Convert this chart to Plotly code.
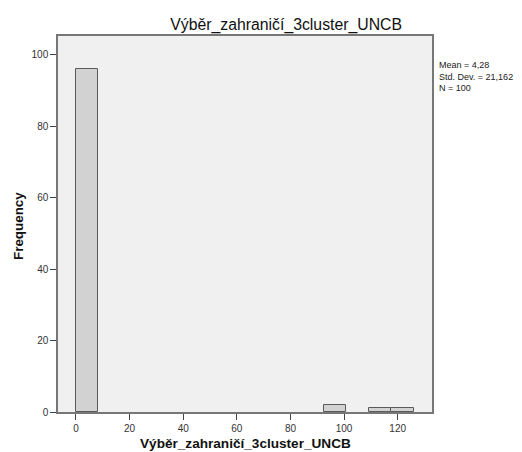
import plotly.graph_objects as go

# Histogram of Výběr_zahraničí_3cluster_UNCB (pre-binned counts)
bin_lefts = [0.0, 92.4, 109.2, 117.6]
counts = [96, 2, 1, 1]
bin_width = 8.4
x_ticks = [0, 20, 40, 60, 80, 100, 120]
y_ticks = [0, 20, 40, 60, 80, 100]
stats_lines = ["Mean = 4,28", "Std. Dev. = 21,162", "N = 100"]
var_name = "Výběr_zahraničí_3cluster_UNCB"

W, H = 522, 452
L, R, T, B = 58, 90, 36, 40
plot_w, plot_h = W - L - R, H - T - B

fig = go.Figure()
fig.add_trace(go.Bar(
    x=[b + bin_width / 2 for b in bin_lefts],
    y=counts,
    width=[bin_width] * len(counts),
    marker=dict(color="#d2d2d2", line=dict(color="#5a5a5a", width=1)),
    showlegend=False,
    hoverinfo="skip",
))

fig.update_layout(
    width=W, height=H,
    margin=dict(l=L, r=R, t=T, b=B, autoexpand=False),
    paper_bgcolor="white",
    plot_bgcolor="#f0f0f0",
    font=dict(family="Liberation Sans, Arial, sans-serif", color="#222"),
    title=dict(text=var_name, x=0.61, xref="paper", xanchor="center",
               y=1 - 24 / H, yanchor="middle",
               font=dict(size=15.8, color="#111")),
    bargap=0,
    xaxis=dict(
        range=[-6.7, 132.8], tickvals=x_ticks, ticks="outside", ticklen=6,
        tickcolor="#444", showgrid=False, zeroline=False, automargin=False,
        showline=True, linecolor="#777", linewidth=1.5, mirror=True,
        tickfont=dict(size=10, color="#333"),
    ),
    yaxis=dict(
        range=[0, 105.3], tickvals=y_ticks, ticks="outside", ticklen=6,
        tickcolor="#444", showgrid=False, zeroline=False, automargin=False,
        showline=True, linecolor="#777", linewidth=1.5, mirror=True,
        tickfont=dict(size=10, color="#333"),
    ),
    annotations=[
        dict(
            text="<br>".join(stats_lines), xref="paper", yref="paper",
            x=1.0, xshift=5, y=1 - (58 - T) / plot_h, xanchor="left", yanchor="top",
            align="left", showarrow=False,
            font=dict(size=9, color="#222"),
        ),
        dict(
            text="<b>" + var_name + "</b>", xref="paper", yref="paper",
            x=0.5, y=-(444 - (T + plot_h)) / plot_h, xanchor="center", yanchor="middle",
            showarrow=False, font=dict(size=13.6, color="#111"),
        ),
        dict(
            text="<b>Frequency</b>", xref="paper", yref="paper",
            x=-(L - 18) / plot_w, y=1 - (226 - T) / plot_h,
            xanchor="center", yanchor="middle", textangle=-90,
            showarrow=False, font=dict(size=13.4, color="#111"),
        ),
    ],
)

fig.write_html("out.html")
